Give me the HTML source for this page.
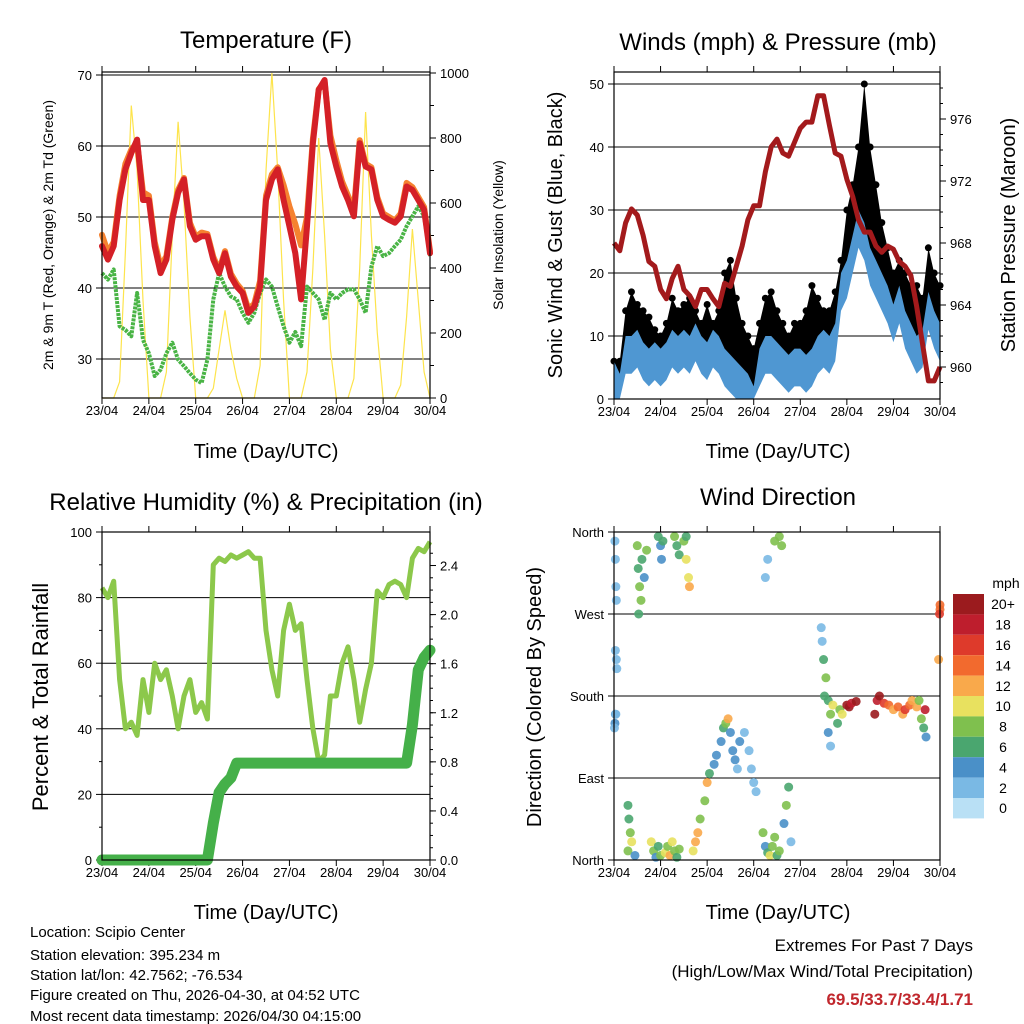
<!DOCTYPE html>
<html><head><meta charset="utf-8">
<style>
html,body{margin:0;padding:0;background:#fff;}
svg{display:block;font-family:"Liberation Sans",Arial,sans-serif;}
</style></head>
<body>
<svg id="c" width="1024" height="1024" viewBox="0 0 1024 1024">
<g id="static">
<text x="266" y="48" font-size="24" text-anchor="middle">Temperature (F)</text>
<text x="778" y="50" font-size="24" text-anchor="middle">Winds (mph) &amp; Pressure (mb)</text>
<text x="266" y="510" font-size="24" text-anchor="middle">Relative Humidity (%) &amp; Precipitation (in)</text>
<text x="778" y="505" font-size="24" text-anchor="middle">Wind Direction</text>
<text x="266" y="458" font-size="20" text-anchor="middle">Time (Day/UTC)</text>
<text x="778" y="458" font-size="20" text-anchor="middle">Time (Day/UTC)</text>
<text x="266" y="919" font-size="20" text-anchor="middle">Time (Day/UTC)</text>
<text x="778" y="919" font-size="20" text-anchor="middle">Time (Day/UTC)</text>
<text transform="translate(53,235) rotate(-90)" font-size="14" text-anchor="middle">2m &amp; 9m T (Red, Orange) &amp; 2m Td (Green)</text>
<text transform="translate(503,235) rotate(-90)" font-size="14" text-anchor="middle">Solar Insolation (Yellow)</text>
<text transform="translate(562,235) rotate(-90)" font-size="20" text-anchor="middle">Sonic Wind &amp; Gust (Blue, Black)</text>
<text transform="translate(1015,235) rotate(-90)" font-size="20" text-anchor="middle">Station Pressure (Maroon)</text>
<text transform="translate(48,697) rotate(-90)" font-size="22" text-anchor="middle">Percent &amp; Total Rainfall</text>
<text transform="translate(541,697) rotate(-90)" font-size="20" text-anchor="middle">Direction (Colored By Speed)</text>
<g font-size="15">
<text x="30" y="937">Location: Scipio Center</text>
<text x="30" y="960">Station elevation: 395.234 m</text>
<text x="30" y="980">Station lat/lon: 42.7562; -76.534</text>
<text x="30" y="1000">Figure created on Thu, 2026-04-30, at 04:52 UTC</text>
<text x="30" y="1021">Most recent data timestamp: 2026/04/30 04:15:00</text>
</g>
<text x="973" y="951" font-size="17" text-anchor="end">Extremes For Past 7 Days</text>
<text x="973" y="977" font-size="17" text-anchor="end">(High/Low/Max Wind/Total Precipitation)</text>
<text x="973" y="1005" font-size="17" font-weight="bold" fill="#c1272d" text-anchor="end">69.5/33.7/33.4/1.71</text>
</g>
</svg>
<script>
// ---------- data (3-hourly, 57 samples from 23/04 00Z to 30/04 00Z) ----------
const dayLabels = ["23/04","24/04","25/04","26/04","27/04","28/04","29/04","30/04"];
const tempRed = [45.9,44,45.9,52.4,56.7,59,60.9,52.4, 52.4,45.9,42.1,44,49.6,53.4,55.3,48.7, 46.8,47.3,47.3,44,42.1,44.9,41.6,40.2, 39.3,36.5,37.4,40.2,52.4,55.3,56.7,52.4, 48.7,44.9,38.4,48.7,60.4,67.9,69.3,60.4, 57.1,54.3,52.4,50.1,60.4,57.1,56.7,52.4, 50.1,49.6,49.2,50.1,54.3,53.8,52.4,51, 44.9];
const tempOrange = [47.5,45,46.5,53,57.5,59.5,60.5,53.5, 53,46.5,43,44.5,50,53.8,55.5,49.2, 47.2,47.8,47.6,44.4,42.5,45.2,42,40.6, 39.6,37,37.8,41,53,56,57,54.5, 51.5,49,46,50,61,68,69,61.5, 58,55,53,51,60.8,57.5,57,52.8, 50.5,50,49.5,50.5,54.8,54.2,52.8,51.4, 45.2];
const dewGreen = [42.1,41.2,42.6,34.6,34.1,33.2,39.3,32.7, 30.8,27.6,28.5,30.8,32.3,29.9,29,28, 27.1,26.6,29.9,38.4,42.1,40.2,38.8,38.4, 36.5,35.1,36.5,39.3,41.2,40.2,37.4,34.6, 32.3,33.8,31.8,40.2,39.3,38.4,35.5,39.3, 38.4,39.3,39.8,39.8,38.4,36.5,43,45.9, 44.5,44.9,45.9,46.8,48.7,50.1,51.5,50.1, 44.5];
const solar = [0,0,0,50,450,900,700,300, 0,0,0,80,500,850,600,250, 0,0,0,30,150,270,150,60, 0,0,0,100,700,1000,700,300, 0,0,0,80,400,800,500,150, 0,0,0,60,400,880,500,200, 0,0,0,40,250,520,300,80, 0];
const pressure = [968,967.5,969.3,970.2,969.8,968.5,966.8,966.5, 965,964.4,965.7,966.5,965,964.6,963.9,965, 965,964.4,963.9,965.4,965.2,966.5,967.8,969.5, 970.4,970.4,972.6,974.2,974.7,973.8,973.6,974.5, 975.4,975.8,975.8,977.5,977.5,975.6,973.8,973.6, 972.1,971,969.5,968.7,968.7,967.8,967.4,967.8, 967.6,966.8,966.5,965.9,963.9,961.5,959.1,959.1, 960];
const windSonic = [6,4,10,10,11,9,8,9, 8,9,11,10,11,10,12,10, 9,11,10,8,7,6,5,4, 2,8,10,10,9,8,7,8, 8,7,8,10,11,10,12,20, 22,26,30,28,24,22,20,18, 15,18,14,12,10,11,17,14, 12];
const windGust = [6,6,14,17,15,14,13,11, 10,12,16,14,15,16,14,12, 15,12,14,20,22,16,12,10, 8,12,16,17,14,12,10,12, 12,14,18,16,14,14,17,22, 30,34,40,50,40,34,28,24, 20,22,20,18,18,16,24,20, 18];
const relHum = [83,80,85,55,40,42,38,55, 45,60,55,58,50,40,50,55, 45,48,43,90,92,91,93,92, 93,94,92,92,70,58,50,70, 78,70,72,55,40,30,32,50, 50,60,65,55,42,52,60,82, 80,84,85,84,80,92,95,94, 97];
const rainTotal = [0,0,0,0,0,0,0,0, 0,0,0,0,0,0,0,0, 0,0,0,0.3,0.55,0.62,0.67,0.79, 0.79,0.79,0.79,0.79,0.79,0.79,0.79,0.79, 0.79,0.79,0.79,0.79,0.79,0.79,0.79,0.79, 0.79,0.79,0.79,0.79,0.79,0.79,0.79,0.79, 0.79,0.79,0.79,0.79,0.79,1.1,1.55,1.65, 1.71];
// wind direction observations
const obsDay = [0.02,0.03,0.04,0.05,0.03,0.05,0.06,0.02,0.03,0.01,0.04, 0.3,0.32,0.35,0.38,0.3,0.45, 0.5,0.52,0.55,0.58,0.53,0.6,0.65,0.7, 0.8,0.85,0.9,0.95,1.0, 0.95,1.0,1.02,1.05, 1.1,1.15,1.2,1.25,1.3,1.35,1.4, 1.3,1.35,1.4,1.5,1.55,1.6,1.62,1.55, 1.7,1.75,1.8,1.85,1.95,2.0,2.05,2.15, 2.2,2.3,2.35,2.4,2.45,2.5,2.55,2.6,2.65,2.7,2.8,2.9,2.95,3.0,3.05, 3.2,3.25,3.3,3.35,3.4,3.45,3.5,3.55, 3.25,3.3,3.45,3.55,3.6, 3.65,3.7,3.75,3.8, 4.45,4.47,4.5,4.55,4.52,4.6,4.65,4.7,4.6,4.65,4.8,4.85,4.9, 5.0,5.05,5.1,5.2, 5.6,5.65,5.7,5.8,5.9,6.0,6.1,6.2,6.25,6.35,6.4,6.5,6.55, 6.6,6.65,6.7,6.68, 7.0,6.99,7.0,6.97];
const obsDir = [350,330,300,285,230,220,210,150,160,145,160, 60,45,30,20,10,5, 345,320,300,285,270,330,310,340, 20,10,3,15,5, 355,345,330,350, 8,15,5,20,10,3,12, 355,345,335,350,330,310,300,355, 10,20,30,45,65,85,95,105, 115,130,145,150,155,140,120,110,100,130,140,120,100,85,75, 30,15,8,5,15,25,5,10, 310,330,350,355,345, 40,60,80,20, 255,240,220,200,180,175,160,170,140,125,150,165,160, 170,168,172,174, 160,175,180,172,170,165,168,160,165,170,175,168,175, 155,145,135,165, 275,270,280,220];
const obsSpd = [2,2,3,2,3,3,2,4,4,3,2, 7,6,8,10,9,4, 8,7,9,8,7,6,5,8, 10,8,5,7,9, 7,4,4,6, 10,9,12,10,8,6,9, 8,7,6,9,10,11,13,7, 10,12,13,9,8,12,6,4, 4,5,6,9,12,5,4,4,3,4,2,2,2,2,2, 8,5,7,10,9,8,7,8, 2,3,8,9,8, 5,8,6,3, 3,2,6,8,7,6,8,10,4,3,6,8,11, 20,20,19,20, 20,19,20,17,15,13,14,12,16,15,13,12,9, 8,7,5,18, 15,17,14,12];
const spdColors = ["#b9e0f5","#7ab9e4","#4a90c8","#4aa66f","#7fc04e","#e8e15f","#f9a94b","#f26a2e","#de3a2b","#be1e2d","#9b1b1e"];
const spdLabels = ["0","2","4","6","8","10","12","14","16","18","20+"];

const NS="http://www.w3.org/2000/svg";
const svg=document.getElementById('c');
function mk(tag,attrs,parent){const e=document.createElementNS(NS,tag);for(const k in attrs)e.setAttribute(k,attrs[k]);(parent||svg).appendChild(e);return e;}
const N=tempRed.length;
function tDay(i){return i*7/(N-1);}

function panel(L,R,T,B,name){
  const g=mk('g',{});
  
  
  return g;
}
function xAxis(g,L,R,T,B){
  const sx=d=>L+(R-L)*d/7;
  dayLabels.forEach((lab,i)=>{
    const x=sx(i);
    const tk=mk('line',{x1:x,x2:x,y1:B,y2:B+6,stroke:'#000','stroke-width':1},g);
    
    
    const tt=mk('line',{x1:x,x2:x,y1:T,y2:T-6,stroke:'#000','stroke-width':1},g);
    
    
    const t=mk('text',{x:x,y:B+17,'font-size':13,'text-anchor':'middle'},g);
    t.textContent=lab;
    
    
  });
  return sx;
}
function frame(g,L,R,T,B){
  const f=mk('rect',{x:L,y:T,width:R-L,height:B-T,fill:'none',stroke:'#000','stroke-width':1.2},g);
  
  
}
function grid(g,L,R,y){
  const l=mk('line',{x1:L,x2:R,y1:y,y2:y,stroke:'#000','stroke-width':1},g);
  
  
}
function ytick(g,x,y,len,label,anchor,name){
  const l=mk('line',{x1:x,x2:x+len,y1:y,y2:y,stroke:'#000','stroke-width':1},g);
  
  
  if(label!==null){
    const t=mk('text',{x:anchor==='end'?x+len-4:x+len+4,y:y+5,'font-size':13,'text-anchor':anchor},g);
    t.textContent=label;
    
    
  }
}
function pathFrom(vals,sx,sy){return vals.map((v,i)=>(i?'L':'M')+sx(tDay(i)).toFixed(1)+' '+sy(v).toFixed(1)).join(' ');}

// ---------- Panel 1: Temperature ----------
(function(){
  const L=102,R=430,T=72,B=398;
  const g=panel(L,R,T,B,'temperature-panel');
  const sx=xAxis(g,L,R,T,B);
  const sy=v=>359-(v-30)*7.1;
  const sSol=v=>398-v*0.325;
  [30,40,50,60,70].forEach(v=>{grid(g,L,R,sy(v));ytick(g,L,sy(v),-6,String(v),'end','temp-y-tick-label');});
  [0,200,400,600,800,1000].forEach(v=>ytick(g,R,sSol(v),6,String(v),'start','solar-y-tick-label'));
  for(let v=100;v<1000;v+=200)ytick(g,R,sSol(v),4,null,'start','');
  const ys=mk('path',{d:pathFrom(solar,sx,sSol),fill:'none',stroke:'#fde44c','stroke-width':1.2},g);
  
  
  const dg=mk('path',{d:pathFrom(dewGreen,sx,sy),fill:'none',stroke:'#49b445','stroke-width':4,'stroke-dasharray':'3 1','stroke-linejoin':'round'},g);
  
  
  const og=mk('path',{d:pathFrom(tempOrange,sx,sy),fill:'none',stroke:'#f58230','stroke-width':6,'stroke-linejoin':'round','stroke-linecap':'round'},g);
  
  
  const rd=mk('path',{d:pathFrom(tempRed,sx,sy),fill:'none',stroke:'#d42027','stroke-width':6,'stroke-linejoin':'round','stroke-linecap':'round'},g);
  
  
  frame(g,L,R,T,B);
})();

// ---------- Panel 2: Winds & Pressure ----------
(function(){
  const L=614,R=940,T=72,B=399;
  const g=panel(L,R,T,B,'winds-panel');
  const sx=xAxis(g,L,R,T,B);
  const sy=v=>399-v*6.3;
  const sp=v=>367-(v-960)*15.5;
  [0,10,20,30,40,50].forEach(v=>{grid(g,L,R,sy(v));ytick(g,L,sy(v),-6,String(v),'end','wind-y-tick-label');});
  [960,964,968,972,976].forEach(v=>ytick(g,R,sp(v),6,String(v),'start','pressure-y-tick-label'));
  for(let v=959;v<979;v++)ytick(g,R,sp(v),3,null,'start','');
  let top=windGust.map((v,i)=>sx(tDay(i)).toFixed(1)+','+sy(v).toFixed(1));
  let bot=windSonic.map((v,i)=>sx(tDay(i)).toFixed(1)+','+sy(Math.max(0,v-3)).toFixed(1)).reverse();
  const gb=mk('polygon',{points:top.concat(bot).join(' '),fill:'#000'},g);
  
  
  windGust.forEach((v,i)=>{
    const c=mk('circle',{cx:sx(tDay(i)),cy:sy(v),r:3.5,fill:'#000'},g);
    
    
  });
  let btop=windSonic.map((v,i)=>sx(tDay(i)).toFixed(1)+','+sy(v).toFixed(1));
  let bbot=windSonic.map((v,i)=>sx(tDay(i)).toFixed(1)+','+sy(Math.max(0,v-6)).toFixed(1)).reverse();
  const bb=mk('polygon',{points:btop.concat(bbot).join(' '),fill:'#4f97d2'},g);
  
  
  const pl=mk('path',{d:pathFrom(pressure,sx,sp),fill:'none',stroke:'#a31a1c','stroke-width':5,'stroke-linejoin':'round'},g);
  
  
  frame(g,L,R,T,B);
})();

// ---------- Panel 3: RH & Precip ----------
(function(){
  const L=102,R=430,T=532,B=860;
  const g=panel(L,R,T,B,'humidity-panel');
  const sx=xAxis(g,L,R,T,B);
  const sy=v=>860-v*3.28;
  const sr=v=>860-v*122.7;
  [0,20,40,60,80,100].forEach(v=>{if(v>0&&v<100)grid(g,L,R,sy(v));ytick(g,L,sy(v),-6,String(v),'end','rh-y-tick-label');});
  for(let v=10;v<100;v+=20)ytick(g,L,sy(v),-3,null,'end','');
  [0,0.4,0.8,1.2,1.6,2.0,2.4].forEach(v=>ytick(g,R,sr(v),6,v.toFixed(1),'start','rain-y-tick-label'));
  for(let v=0.1;v<2.6;v+=0.1)ytick(g,R,sr(v),3,null,'start','');
  const rh=mk('path',{d:pathFrom(relHum,sx,sy),fill:'none',stroke:'#8cc84b','stroke-width':5,'stroke-linejoin':'round'},g);
  
  
  const rn=mk('path',{d:pathFrom(rainTotal,sx,sr),fill:'none',stroke:'#45b049','stroke-width':11,'stroke-linejoin':'round','stroke-linecap':'round'},g);
  
  
  frame(g,L,R,T,B);
})();

// ---------- Panel 4: Wind direction ----------
(function(){
  const L=614,R=940,T=532,B=860;
  const g=panel(L,R,T,B,'direction-panel');
  const sx=xAxis(g,L,R,T,B);
  const sy=v=>860-v*(328/360);
  const dl=["North","East","South","West","North"];
  [0,90,180,270,360].forEach((v,i)=>{grid(g,L,R,sy(v));ytick(g,L,sy(v),-6,dl[i],'end','dir-y-tick-label');});
  obsDay.forEach((d,i)=>{
    const idx=Math.min(10,Math.floor(obsSpd[i]/2));
    const c=mk('circle',{cx:sx(d),cy:sy(obsDir[i]),r:4.5,fill:spdColors[idx],opacity:0.9},g);
    
    
  });
  frame(g,L,R,T,B);
  const cb=mk('g',{},svg);
  
  
  const ct=mk('text',{x:1006,y:588,'font-size':14,'text-anchor':'middle'},cb);
  ct.textContent='mph';
  
  
  const h=20.4;
  for(let k=0;k<11;k++){
    const j=10-k;
    const y=594+k*h;
    const r=mk('rect',{x:953,y:y,width:31,height:h,fill:spdColors[j]},cb);
    
    
    const t=mk('text',{x:1003,y:y+h/2+5,'font-size':14,'text-anchor':'middle'},cb);
    t.textContent=spdLabels[j];
    
    
  }
})();
</script>
</body></html>
